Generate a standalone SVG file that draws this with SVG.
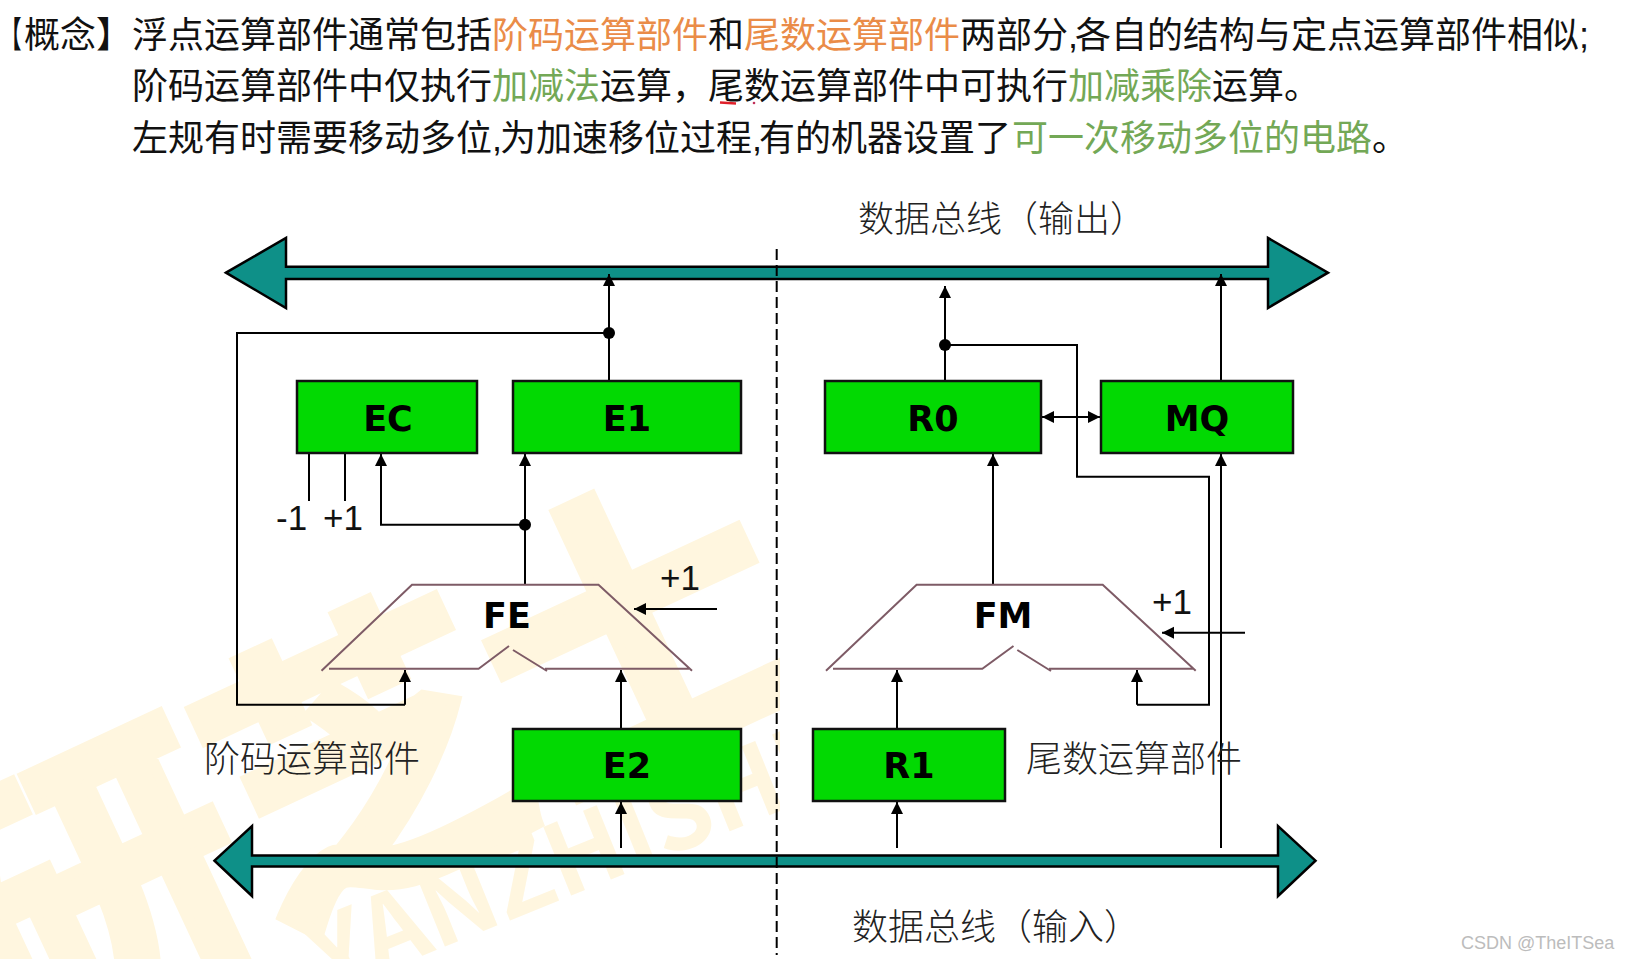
<svg xmlns="http://www.w3.org/2000/svg" width="1628" height="959" viewBox="0 0 1628 959">
<style>
.h{font-family:"Liberation Sans","Noto Sans CJK SC",sans-serif;font-size:36px;fill:#111}
.o{fill:#EA8C48}.g{fill:#73A856}
.c{font-family:"Noto Sans CJK SC",sans-serif;font-size:36px;font-weight:300;fill:#222}
.n{font-family:"DejaVu Sans",sans-serif;font-size:35px;font-weight:700;fill:#000;text-anchor:middle}
.p{font-family:"Liberation Sans",sans-serif;font-size:35px;fill:#111}
.box{fill:#02D902;stroke:#111;stroke-width:2.5}
.bus{fill:#0E9088;stroke:#000;stroke-width:2.5;stroke-linejoin:miter}
.l{fill:none;stroke:#000;stroke-width:2}
.a{marker-end:url(#ah)}
.t{fill:none;stroke:#7E5B66;stroke-width:2}
.w{font-family:"Noto Sans CJK SC",sans-serif;font-weight:700;fill:#FFF6DF;stroke:#FFF6DF}
</style>
<defs>
<marker id="ah" markerUnits="userSpaceOnUse" markerWidth="13" markerHeight="13" refX="12" refY="6" orient="auto"><path d="M0 0L12 6L0 12Z" fill="#000"/></marker>
<marker id="as" markerUnits="userSpaceOnUse" markerWidth="13" markerHeight="13" refX="0" refY="6" orient="auto"><path d="M12 0L0 6L12 12Z" fill="#000"/></marker>
<clipPath id="wc"><rect x="0" y="480" width="780" height="479"/></clipPath>
</defs>
<rect width="1628" height="959" fill="#fff"/>
<g id="watermark" clip-path="url(#wc)">
<text class="w" font-size="300" stroke-width="12" transform="translate(2 1052) rotate(-25)">研芝士</text>
<text class="w" font-size="100" stroke-width="0" transform="translate(325 995) rotate(-22)">YANZHISHI</text>
</g>
<g id="heading">
<text class="h" transform="translate(0 48) scale(.6 1)">【</text>
<text class="h" x="24" y="48">概念】浮点运算部件通常包括<tspan class="o">阶码运算部件</tspan>和<tspan class="o">尾数运算部件</tspan>两部分,<tspan x="1075">各自的结构与定点运算部件相似;</tspan></text>
<text class="h" x="132" y="99">阶码运算部件中仅执行<tspan class="g">加减法</tspan>运算，尾数运算部件中可执行<tspan class="g">加减乘除</tspan>运算。</text>
<text class="h" x="132" y="151">左规有时需要移动多位,<tspan x="500">为加速移位过程,</tspan><tspan x="759">有的机器设置了</tspan><tspan x="1012" class="g">可一次移动多位的电路</tspan>。</text>
<path d="M720 102.5L736 103.5" stroke="#E0202A" stroke-width="2.5" fill="none"/>
<circle cx="754" cy="103" r="1.3" fill="#C0305A"/>
</g>
<g id="bus-out">
<path class="bus" d="M226 272.7L286 238V266.7H1268V238L1328 272.7L1268 308V279H286V308Z"/>
<text class="c" x="858" y="232">数据总线（输出）</text>
</g>
<g id="bus-in">
<path class="bus" d="M214.5 860.7L252 826V855.5H1278V826L1315.5 860.7L1278 896V866.5H252V896Z"/>
<text class="c" x="852" y="940">数据总线（输入）</text>
</g>
<g id="divider"><path d="M776.7 249V955" stroke="#000" stroke-width="2" stroke-dasharray="11 5" fill="none"/></g>
<g id="connectors">
<path class="l a" d="M609 381V274"/>
<path class="l" d="M609 333H237V704.7H405"/>
<path class="l a" d="M405 704.7V670"/>
<circle cx="609" cy="333" r="6"/>
<path class="l" d="M309 454V501M345 454V501"/>
<path class="l a" d="M525 584.7V454"/>
<path class="l a" d="M525 524.7H381V454"/>
<circle cx="525" cy="524.7" r="6"/>
<path class="l a" d="M717 609H634"/>
<path class="l a" d="M621 729V670"/>
<path class="l a" d="M621 848V802"/>
<path class="l a" d="M945 381V286"/>
<path class="l" d="M945 345H1077V476.7H1209V704.7H1137"/>
<path class="l a" d="M1137 704.7V670"/>
<circle cx="945" cy="345" r="6"/>
<path class="l" d="M1042 417H1100" marker-start="url(#as)" marker-end="url(#ah)"/>
<path class="l a" d="M1221 381V274"/>
<path class="l a" d="M1221 848V454"/>
<path class="l a" d="M993 584.7V454"/>
<path class="l a" d="M1245 632.7H1162"/>
<path class="l a" d="M897 729V670"/>
<path class="l a" d="M897 848V802"/>
</g>
<g id="EC"><rect class="box" x="297" y="381" width="180" height="72"/><text class="n" x="388" y="431">EC</text></g>
<g id="E1"><rect class="box" x="513" y="381" width="228" height="72"/><text class="n" x="627" y="431">E1</text></g>
<g id="R0"><rect class="box" x="825" y="381" width="216" height="72"/><text class="n" x="933" y="431">R0</text></g>
<g id="MQ"><rect class="box" x="1101" y="381" width="192" height="72"/><text class="n" x="1197" y="431">MQ</text></g>
<g id="E2"><rect class="box" x="513" y="729" width="228" height="72"/><text class="n" x="627" y="778">E2</text></g>
<g id="R1"><rect class="box" x="813" y="729" width="192" height="72"/><text class="n" x="909" y="778">R1</text></g>
<g id="FE">
<path class="t" d="M321.5 670.7L412 584.7H598.5L692 670.7M329 668.7H478.6L509 646M513 650L547 671M545 668.7H689"/>
<text class="n" x="507" y="627.7">FE</text>
</g>
<g id="FM">
<path class="t" d="M826 670.7L916.6 584.7H1102.7L1195.7 670.7M833 668.7H982.3L1013.5 646M1017.3 650L1051 671M1049 668.7H1194"/>
<text class="n" x="1003" y="627.7">FM</text>
</g>
<g id="labels">
<text class="p" x="276" y="530">-1</text>
<text class="p" x="323" y="530">+1</text>
<text class="p" x="660" y="590">+1</text>
<text class="p" x="1152" y="614">+1</text>
<text class="c" x="204" y="772">阶码运算部件</text>
<text class="c" x="1026" y="772">尾数运算部件</text>
<text x="1461" y="949" font-family="Liberation Sans,sans-serif" font-size="18" fill="#bcbcbc">CSDN @TheITSea</text>
</g>
</svg>
